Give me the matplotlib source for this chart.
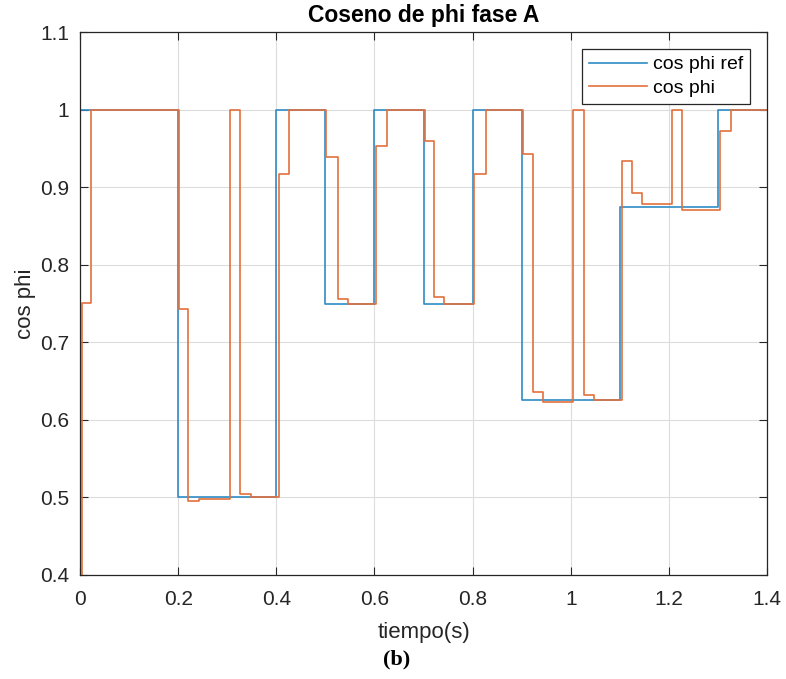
import matplotlib
matplotlib.use("Agg")
import matplotlib.pyplot as plt
from matplotlib.ticker import FuncFormatter

# Reference power factor (step changes every 0.1 s)
t_ref = [0, 0.2, 0.4, 0.5, 0.6, 0.7, 0.8, 0.9, 1.1, 1.3, 1.4]
cos_ref = [1, 0.5, 1, 0.75, 1, 0.75, 1, 0.625, 0.875, 1, 1]

# Measured power factor (sample-and-hold response)
t_meas = [0, 0.004, 0.023, 0.201, 0.221, 0.243, 0.306, 0.327, 0.348,
          0.405, 0.425, 0.502, 0.526, 0.547, 0.604, 0.625, 0.703, 0.722,
          0.742, 0.802, 0.827, 0.903, 0.924, 0.943, 1.005, 1.027, 1.047,
          1.105, 1.124, 1.145, 1.206, 1.227, 1.305, 1.326, 1.4]
cos_meas = [0, 0.751, 1, 0.743, 0.496, 0.498, 1, 0.505, 0.500,
            0.917, 1, 0.939, 0.756, 0.749, 0.953, 1, 0.959, 0.759,
            0.750, 0.917, 1, 0.943, 0.636, 0.623, 1, 0.632, 0.625,
            0.934, 0.893, 0.878, 1, 0.871, 0.972, 1, 1]

x_ticks = [0, 0.2, 0.4, 0.6, 0.8, 1.0, 1.2, 1.4]
y_ticks = [0.4, 0.5, 0.6, 0.7, 0.8, 0.9, 1.0, 1.1]

plt.rcParams['font.family'] = ['Liberation Sans', 'DejaVu Sans']

fig = plt.figure(figsize=(7.86, 6.79), dpi=100)
ax = fig.add_axes([80 / 786, 1 - 575 / 679, 687 / 786, 543 / 679])

blue = '#2f8cc6'
orange = '#e2703c'
ax.step(t_ref, cos_ref, where='post', color=blue, lw=1.2, label='cos phi ref')
ax.step(t_meas, cos_meas, where='post', color=orange, lw=1.2, label='cos phi')

ax.set_xlim(0, 1.4)
ax.set_ylim(0.4, 1.1)
ax.set_xticks(x_ticks)
ax.set_yticks(y_ticks)
fmt = FuncFormatter(lambda v, p: f"{v:g}")
ax.xaxis.set_major_formatter(fmt)
ax.yaxis.set_major_formatter(fmt)

ax.grid(True, color='#dcdcdc', lw=0.8)
ax.set_axisbelow(True)
ax.tick_params(direction='in', length=6, width=0.8, top=True, right=True,
               labelsize=15, colors='#262626')
ax.tick_params(axis='x', pad=11)
ax.tick_params(axis='y', pad=8)
for s in ax.spines.values():
    s.set_color('#262626')
    s.set_linewidth(0.9)

ax.set_title('Coseno de phi fase A', fontsize=16.5, fontweight='bold', pad=7)
ax.set_xlabel('tiempo(s)', fontsize=16, color='#262626', labelpad=9)
ax.set_ylabel('cos phi', fontsize=16, color='#262626', labelpad=3)

leg = ax.legend(loc='upper right', bbox_to_anchor=((750 - 80) / 687, (575 - 49) / 543),
                borderaxespad=0, fontsize=14, handlelength=3.0, fancybox=False,
                framealpha=1, edgecolor='#262626', borderpad=0.35, labelspacing=0.3,
                handletextpad=0.3)
leg.get_frame().set_linewidth(0.9)

fig.text(397 / 786, 1 - 659 / 679, '(b)', ha='center', va='center', fontsize=16,
         fontweight='bold', family=['Liberation Serif', 'DejaVu Serif'])

fig.savefig('out.png', dpi=100)
